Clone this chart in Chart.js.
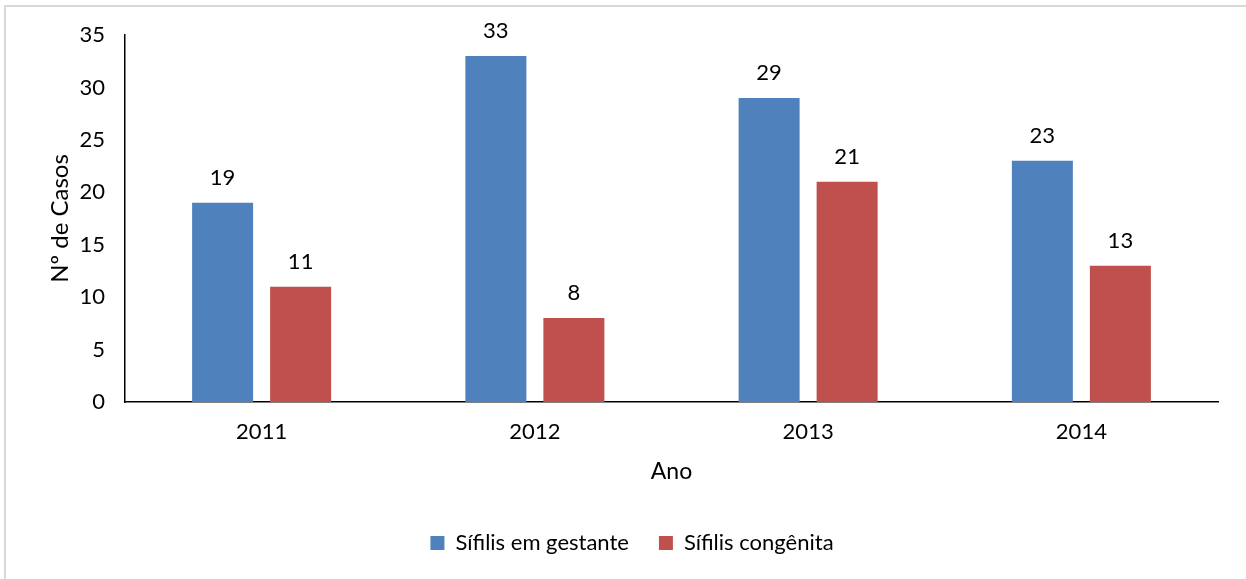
<!DOCTYPE html>
<html>
<head>
<meta charset="utf-8">
<script src="https://cdn.jsdelivr.net/npm/chart.js@4"></script>
<style>
  html,body{margin:0;padding:0;background:#fff;}
  #frame{position:absolute;left:4px;top:5px;width:1300px;height:700px;border:2px solid #d9d9d9;box-sizing:border-box;}
  #wrap{position:absolute;left:0;top:0;width:1246px;height:579px;}
</style>
</head>
<body>
<div id="frame"></div>
<div id="wrap"><canvas id="barChart"></canvas></div>
<script>
const anos = ["2011","2012","2013","2014"];
const gestante = [19,33,29,23];
const congenita = [11,8,21,13];
const yTicks = [0,5,10,15,20,25,30,35];

// valores acima das barras
const rotulos = {
  id:"rotulos",
  afterDatasetsDraw(chart){
    const ctx=chart.ctx;
    ctx.save();
    ctx.font="22px Lato";
    ctx.fillStyle="#000";
    ctx.textAlign="center";
    ctx.textBaseline="bottom";
    chart.data.datasets.forEach((ds,i)=>{
      chart.getDatasetMeta(i).data.forEach((bar,j)=>{
        ctx.fillText(ds.data[j],bar.x,bar.y-14);
      });
    });
    ctx.restore();
  }
};

new Chart(document.getElementById("barChart"),{
  type:"bar",
  data:{
    labels:anos,
    datasets:[
      {label:"Sífilis em gestante",data:gestante,backgroundColor:"#4f81bd"},
      {label:"Sífilis congênita",data:congenita,backgroundColor:"#c0504d"}
    ]
  },
  options:{
    responsive:true,
    maintainAspectRatio:false,
    animation:false,
    categoryPercentage:0.571,
    barPercentage:0.782,
    layout:{padding:{top:35,right:28,left:46,bottom:15}},
    plugins:{
      legend:{
        position:"bottom",
        labels:{font:{family:"Lato",size:22},color:"#000",boxWidth:14,boxHeight:14,padding:30}
      },
      tooltip:{enabled:false}
    },
    scales:{
      x:{
        grid:{display:false,drawTicks:false},
        border:{display:true,color:"#000",width:1.5},
        ticks:{font:{family:"Lato",size:22},color:"#000",padding:17},
        title:{display:true,text:"Ano",font:{family:"Lato",size:23},color:"#000",padding:{top:0,bottom:17}},
        afterFit(s){s.height=100;}
      },
      y:{
        min:0,max:35,
        afterBuildTicks(s){s.ticks=yTicks.map(v=>({value:v}));},
        grid:{display:false,drawTicks:false},
        border:{display:true,color:"#000",width:1.5},
        ticks:{font:{family:"Lato",size:22},color:"#000",padding:20},
        title:{display:true,text:"Nº de Casos",font:{family:"Lato",size:24},color:"#000",padding:0},
        afterFit(s){s.width=79;}
      }
    }
  },
  plugins:[rotulos]
});
</script>
</body>
</html>
